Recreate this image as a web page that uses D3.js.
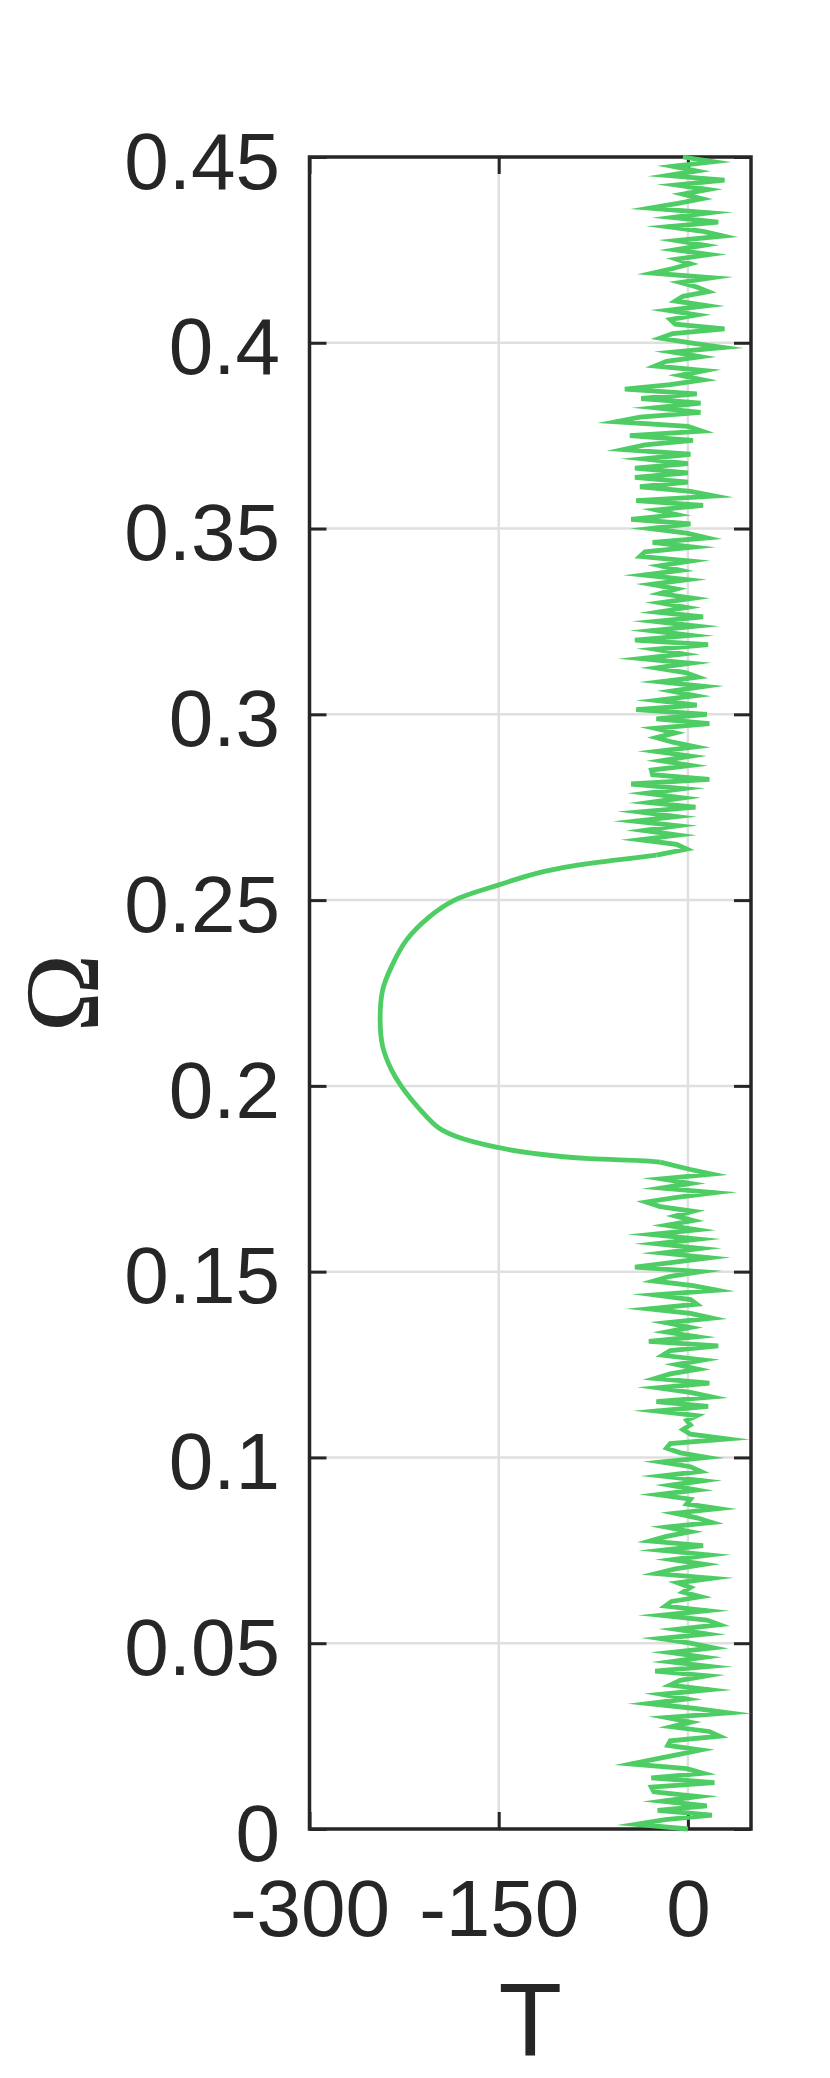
<!DOCTYPE html>
<html>
<head>
<meta charset="utf-8">
<script src="https://cdn.jsdelivr.net/npm/d3@7"></script>
<style>
  html, body { margin: 0; padding: 0; background: #ffffff; }
  svg { display: block; }
</style>
</head>
<body>
<svg id="chart" width="830" height="2078"></svg>
<script>
// ---------------- data ----------------
const yTickValues = [0, 0.05, 0.1, 0.15, 0.2, 0.25, 0.3, 0.35, 0.4, 0.45];
const yTickLabels = ["0", "0.05", "0.1", "0.15", "0.2", "0.25", "0.3", "0.35", "0.4", "0.45"];
const xTickValues = [-300, -150, 0];
const xTickLabels = ["-300", "-150", "0"];
const xLabel = "T";
const yLabel = "Ω";

// sampling of the noisy branches (Omega start, step)
const upperStart = 0.45;      // upper noisy branch, going down in Omega
const lowerStart = 0.1775;    // lower noisy branch, going down to 0
const omegaStep = 0.00125;

// T values of upper noisy branch (Omega 0.45 -> 0.26375)
const upperT = [
  -4, 20, -12, 7, -16, 29, -9, 16, -4, 11,
  -8, -30, 17, -12, 24, -16, 12, 28, -9, 13,
  -10, 17, -9, 2, -12, -28, 19, -6, 7, 16,
  -4, -10, 15, -16, 7, -14, -10, 29, -12, -22,
  2, 28, -12, 10, -17, -26, 13, -6, 12, -14,
  -50, 7, -37, 10, -26, 10, -38, -57, 0, 11,
  -46, 4, -34, -51, 2, -35, 0, -42, 0, -42,
  0, -38, 2, 21, -41, 12, -25,
  -9, -45, 2, -30, -1, 15, -28, 4, -34, -38,
  2, -22, -6, -35, -1, -29, -9, -22, 4, -22,
  -1, -24, 12, -26, 7, -29, 2, -42, 16, -26,
  -4, -37, 2, -25, -2, 8, -22, 13, -13, 6,
  -25, 7, -41, 15, -25, 17, -26, -10, -25, -12,
  6, -25, 2, -21, 2, -29, -28, 17, -45, -4,
  -33, -4, -31, 6, -38, -9, -42, -8, -35, -8,
  -38, -9, -1
];

// smooth resonance branch (Omega, T)
const curveOmega = [0.2621, 0.2608, 0.2592, 0.2572, 0.2541, 0.2500, 0.2455, 0.2393, 0.2321, 0.2258,
                    0.2177, 0.2106, 0.2043, 0.1998, 0.1935, 0.1888, 0.1863, 0.1835, 0.1816, 0.1804,
                    0.1799, 0.1795];
const curveT = [-25, -56, -91, -120, -150, -185, -205, -223, -235, -242,
                -244, -242, -235, -227, -212, -198, -183, -152, -117, -78,
                -38, -22];

// T values of lower noisy branch (Omega 0.1775 -> 0)
const lowerT = [
  2, 19, -21, 2, -21, 21, -9, -33, -22, 4,
  -10, 4, -17, 7, -29, 8, -25, 10, -20, 17,
  -12, -42, 10, -14, -27, 4, 23, -26, 2, 7,
  -31, 2, 19, -17, 2, -17, 7, -31, 24, -14,
  -20, 12, -9, 8, -14, -26, 17, -24, 2, 19,
  -25, 16, -25, 7, -1, 2, -4, 2, 31, -14,
  -17, -6, 15, -21, 2, 10, -21, 12, -14, 7,
  -24, 2, -1, 24, -10, 7, 19, -17, 2, -17,
  -30, 12, -21, 17, -12, 13, -10, -25, 19, -8,
  2, -4, 10, -13, -18, 15, -21, 15, 25, -9,
  15, -22, 2, 20, -14, 13, -14, 17, -26, 15,
  -6, -14, 17, -21, -1, -31, 4, 32, -17, 2,
  -13, 17, 25, -14, -16, 10, -8, -27, -45, -1,
  12, -29, 21, -29, -27, 8, -20, 15, -24, 19,
  -18, -41, 0
];

// ---------------- layout ----------------
const W = 830, H = 2078;
const plot = { left: 309.5, right: 751, top: 157, bottom: 1829 };
const ink = "#262626";
const green = "#4dcd64";
const gridColor = "#dfdfdf";
const tickLen = 17;

const svg = d3.select("#chart");
svg.append("rect").attr("width", W).attr("height", H).attr("fill", "#ffffff");

const x = d3.scaleLinear().domain([-300, 50]).range([plot.left, plot.right]);
const y = d3.scaleLinear().domain([0, 0.45]).range([plot.bottom, plot.top]);

// grid
const grid = svg.append("g").attr("stroke", gridColor).attr("stroke-width", 2.5);
grid.selectAll("line.gx").data(xTickValues).join("line")
  .attr("class", "gx")
  .attr("x1", d => x(d)).attr("x2", d => x(d))
  .attr("y1", plot.top).attr("y2", plot.bottom);
grid.selectAll("line.gy").data(yTickValues).join("line")
  .attr("class", "gy")
  .attr("x1", plot.left).attr("x2", plot.right)
  .attr("y1", d => y(d)).attr("y2", d => y(d));

// axes
const fontFam = "'Liberation Sans', Arial, Helvetica, sans-serif";
function styleAxis(g) {
  g.select(".domain").remove();
  g.selectAll(".tick line").attr("stroke", ink).attr("stroke-width", 3);
  g.selectAll(".tick text").attr("fill", ink).attr("font-size", 80).attr("font-family", fontFam);
}

const yAxisL = d3.axisLeft(y).tickValues(yTickValues)
  .tickFormat((d, i) => yTickLabels[i]).tickSizeInner(-tickLen).tickSizeOuter(0).tickPadding(29.5);
svg.append("g").attr("transform", `translate(${plot.left},0)`).call(yAxisL).call(styleAxis)
  .selectAll(".tick text").attr("dy", "0.39em");

const yAxisR = d3.axisRight(y).tickValues(yTickValues).tickFormat("")
  .tickSizeInner(-tickLen).tickSizeOuter(0);
svg.append("g").attr("transform", `translate(${plot.right},0)`).call(yAxisR).call(styleAxis);

const xAxisB = d3.axisBottom(x).tickValues(xTickValues)
  .tickFormat((d, i) => xTickLabels[i]).tickSizeInner(-tickLen).tickSizeOuter(0).tickPadding(50);
svg.append("g").attr("transform", `translate(0,${plot.bottom})`).call(xAxisB).call(styleAxis);

const xAxisT = d3.axisTop(x).tickValues(xTickValues).tickFormat("")
  .tickSizeInner(-tickLen).tickSizeOuter(0);
svg.append("g").attr("transform", `translate(0,${plot.top})`).call(xAxisT).call(styleAxis);

// box
svg.append("rect")
  .attr("x", plot.left).attr("y", plot.top)
  .attr("width", plot.right - plot.left).attr("height", plot.bottom - plot.top)
  .attr("fill", "none").attr("stroke", ink).attr("stroke-width", 3.5);

// labels
svg.append("text")
  .attr("x", (plot.left + plot.right) / 2).attr("y", 2056)
  .attr("text-anchor", "middle").attr("fill", ink)
  .attr("font-family", fontFam).attr("font-size", 104)
  .text(xLabel);

svg.append("text")
  .attr("transform", `translate(98,${(plot.top + plot.bottom) / 2}) rotate(-90)`)
  .attr("text-anchor", "middle").attr("fill", ink)
  .attr("font-family", "'Liberation Serif', 'Times New Roman', serif").attr("font-size", 106)
  .text(yLabel);

// data
const upperPts = upperT.map((t, i) => [t, upperStart - i * omegaStep]);
const curvePts = curveT.map((t, i) => [t, curveOmega[i]]);
const lowerPts = lowerT.map((t, i) => [t, lowerStart - i * omegaStep]);

const lineLin = d3.line().x(d => x(d[0])).y(d => y(d[1])).curve(d3.curveLinear);
const lineSmooth = d3.line().x(d => x(d[0])).y(d => y(d[1])).curve(d3.curveCatmullRom.alpha(0.5));

const dataG = svg.append("g").attr("fill", "none").attr("stroke", green)
  .attr("stroke-width", 4.8).attr("stroke-linejoin", "miter").attr("stroke-miterlimit", 10);

dataG.append("path").attr("d", lineLin(upperPts.concat([curvePts[0]])));
dataG.append("path").attr("d", lineSmooth(curvePts)).attr("stroke-linejoin", "round");
dataG.append("path").attr("d", lineLin([curvePts[curvePts.length - 1]].concat(lowerPts)));
</script>
</body>
</html>
